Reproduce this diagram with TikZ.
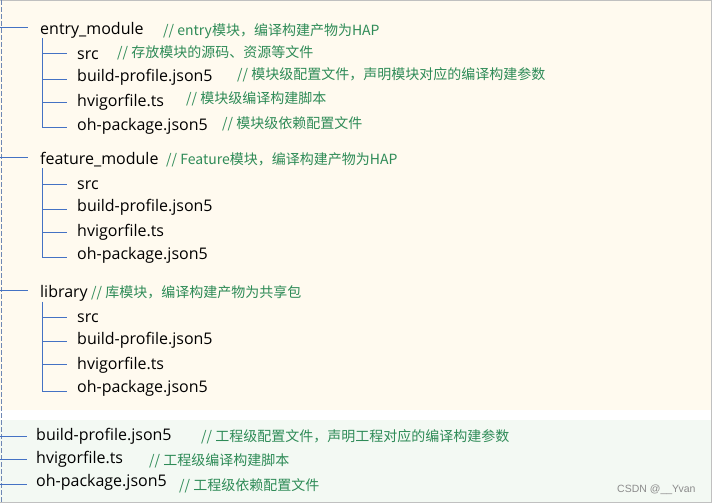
\documentclass[tikz,border=0pt]{standalone}
\usepackage{fontspec}
\newfontfamily\latinf{Open Sans}
\newfontfamily\cjkf{Noto Sans CJK SC}
\newfontfamily\wmf{Liberation Sans}
\newcommand\itemfont{\latinf\fontsize{16}{18}\selectfont}
\newcommand\cmtfont{\cjkf\fontsize{14}{16}\selectfont}
\definecolor{cream}{RGB}{255,250,239}
\definecolor{paleg}{RGB}{243,249,243}
\definecolor{lineblue}{RGB}{68,114,196}
\definecolor{dashblue}{RGB}{110,135,180}
\definecolor{cmtgreen}{RGB}{46,139,87}
\definecolor{bordergrey}{RGB}{192,192,192}
\tikzset{
  conn/.style={draw=lineblue, line width=1pt},
  item/.style={anchor=base west, inner sep=0pt, font=\itemfont, text=black},
  cmt/.style={anchor=base west, inner sep=0pt, font=\cmtfont, text=cmtgreen},
}
\begin{document}
\begin{tikzpicture}[x=1pt,y=-1pt]
\useasboundingbox (0,0) rectangle (712,503);
% backgrounds
\fill[cream] (0,0) rectangle (712,410);
\fill[white] (0,410) rectangle (712,420);
\fill[paleg] (0,420) rectangle (712,502);
\draw[bordergrey, line width=1.2pt] (0,0.6) -- (711.4,0.6) -- (711.4,502.4) -- (0,502.4);
\draw[dashblue, line width=1pt, dash pattern=on 5pt off 2pt] (1.5,0) -- (1.5,503);

% ---------- entry_module ----------
\node[item] (entry) at (40,34.3) {entry\_module};
\node[cmt] (entryc) at (163,35.5) {// entry模块，编译构建产物为HAP};
\coordinate (entryL) at (0,28); \coordinate (entryR) at (27.5,28);
\draw[conn] (entryL) -- (entryR);
\node[item] (e1) at (77,59.3) {src};
\node[cmt] (e1c) at (117,58) {// 存放模块的源码、资源等文件};
\node[item] (e2) at (77,81.7) {build-profile.json5};
\node[cmt] (e2c) at (237,79.5) {// 模块级配置文件，声明模块对应的编译构建参数};
\node[item] (e3) at (77,106) {hvigorfile.ts};
\node[cmt] (e3c) at (186,103.5) {// 模块级编译构建脚本};
\node[item] (e4) at (77,130) {oh-package.json5};
\node[cmt] (e4c) at (222,128.5) {// 模块级依赖配置文件};
\coordinate (eV) at (42,38);
\coordinate (e1h) at (67,53.3); \coordinate (e2h) at (67,79.3);
\coordinate (e3h) at (67,102.3); \coordinate (e4h) at (67,127);
\draw[conn] (eV) |- (e1h) (eV) |- (e2h) (eV) |- (e3h) (eV) |- (e4h);

% ---------- feature_module ----------
\node[item] (feat) at (40,164.3) {feature\_module};
\node[cmt] (featc) at (166,164.8) {// Feature模块，编译构建产物为HAP};
\coordinate (featL) at (0,157); \coordinate (featR) at (27.5,157);
\draw[conn] (featL) -- (featR);
\node[item] (f1) at (77,189.3) {src};
\node[item] (f2) at (77,211.5) {build-profile.json5};
\node[item] (f3) at (77,236.7) {hvigorfile.ts};
\node[item] (f4) at (77,259.3) {oh-package.json5};
\coordinate (fV) at (42,168.3);
\coordinate (f1h) at (67,184); \coordinate (f2h) at (67,209.3);
\coordinate (f3h) at (67,232.7); \coordinate (f4h) at (67,257);
\draw[conn] (fV) |- (f1h) (fV) |- (f2h) (fV) |- (f3h) (fV) |- (f4h);

% ---------- library ----------
\node[item] (lib) at (40,297.3) {library};
\node[cmt] (libc) at (91,297) {// 库模块，编译构建产物为共享包};
\coordinate (libL) at (0,290); \coordinate (libR) at (27.5,290);
\draw[conn] (libL) -- (libR);
\node[item] (l1) at (77,322.7) {src};
\node[item] (l2) at (77,344.3) {build-profile.json5};
\node[item] (l3) at (77,369) {hvigorfile.ts};
\node[item] (l4) at (77,392.7) {oh-package.json5};
\coordinate (lV) at (42,301.7);
\coordinate (l1h) at (67,317.7); \coordinate (l2h) at (67,341);
\coordinate (l3h) at (67,364.3); \coordinate (l4h) at (67,391.7);
\draw[conn] (lV) |- (l1h) (lV) |- (l2h) (lV) |- (l3h) (lV) |- (l4h);

% ---------- project level ----------
\node[item] (p1) at (36,440) {build-profile.json5};
\node[cmt] (p1c) at (201,441) {// 工程级配置文件，声明工程对应的编译构建参数};
\node[item] (p2) at (36,463.3) {hvigorfile.ts};
\node[cmt] (p2c) at (149,465) {// 工程级编译构建脚本};
\node[item] (p3) at (36,486) {oh-package.json5};
\node[cmt] (p3c) at (179,490) {// 工程级依赖配置文件};
\coordinate (p1L) at (0,436.7); \coordinate (p1R) at (27,436.7);
\coordinate (p2L) at (0,459.3); \coordinate (p2R) at (27,459.3);
\coordinate (p3L) at (0,484.3); \coordinate (p3R) at (27,484.3);
\draw[conn] (p1L) -- (p1R) (p2L) -- (p2R) (p3L) -- (p3R);

% watermark
\node[anchor=base west, inner sep=0pt, font=\wmf\fontsize{10.5}{12}\selectfont, text=black!45] (wm) at (617,492) {CSDN @\_\_Yvan};
\end{tikzpicture}
\end{document}
